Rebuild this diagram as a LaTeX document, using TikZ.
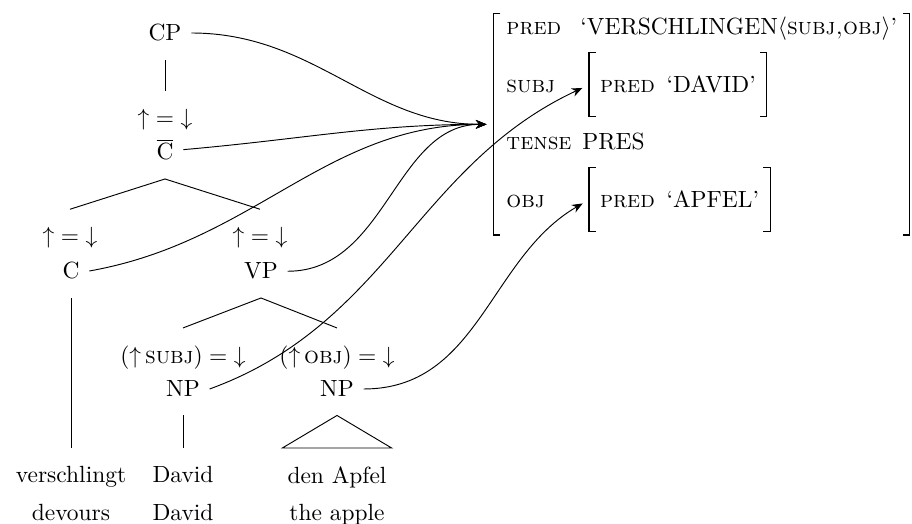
\documentclass[tikz,border=0pt]{standalone}
\usepackage{amsmath}
\usetikzlibrary{arrows.meta, fit}

% square brackets round an f-structure node
\newcommand{\fbrackets}[1]{%
  \draw[line width=0.5pt] ([xshift=1mm]#1.north west) -- (#1.north west) -- (#1.south west) -- ([xshift=1mm]#1.south west);
  \draw[line width=0.5pt] ([xshift=-1mm]#1.north east) -- (#1.north east) -- (#1.south east) -- ([xshift=-1mm]#1.south east);}

\begin{document}
\begin{tikzpicture}[
    x=0.015cm, y=0.015cm,
    cat/.style={anchor=base, inner xsep=4pt, inner ysep=0.27cm},
    word/.style={anchor=north, align=center, inner xsep=2pt, inner ysep=0.27cm},
    branch/.style={draw, line width=0.4pt},
    fattr/.style={anchor=base west, inner sep=0pt},
    fsub/.style={anchor=base west, inner xsep=4.5pt, inner ysep=0pt, minimum height=0.945cm},
    fmap/.style={-{Stealth[length=1.6mm, width=1.3mm]}, shorten >=1.1mm}
]
    \useasboundingbox (0,0) rectangle (912,-524);

    % c-structure
    \node[cat] (cp) at (165,-41) {CP};
    \node[cat] (cbarann) at (165,-126) {${\uparrow} = {\downarrow}$};
    \node[cat] (cbar) at (165,-160) {$\overline{\mbox{C}}$};
    \node[cat] (cann) at (70,-244) {${\uparrow} = {\downarrow}$};
    \node[cat] (c) at (71,-279) {C};
    \node[cat] (vpann) at (260,-244) {${\uparrow} = {\downarrow}$};
    \node[cat] (vp) at (261,-279) {VP};
    \node[cat] (subjann) at (183,-364) {$({\uparrow}\,\textsc{subj}) = {\downarrow}$};
    \node[cat] (npsubj) at (183,-397) {NP};
    \node[cat] (objann) at (337,-364) {$({\uparrow}\,\textsc{obj}) = {\downarrow}$};
    \node[cat] (npobj) at (337,-397) {NP};

    % words and glosses
    \node[word] (verb) at (71,-448) {verschlingt\\[4pt]devours};
    \node[word] (david) at (183,-448) {David\\[4pt]David};
    \node[word] (apfel) at (337,-448) {den Apfel\\[4pt]the apple};

    % tree edges
    \draw[branch] (cp.south) -- (cbarann.north);
    \draw[branch] (cann.north) -- (cbar.south) -- (vpann.north);
    \draw[branch] (subjann.north) -- (vp.south) -- (objann.north);
    \draw[branch] (c.south) -- (verb.north);
    \draw[branch] (npsubj.south) -- (david.north);
    \draw[branch] (npobj.south) -- (apfel.north west) -- (apfel.north east) -- cycle;

    % f-structure
    \node[fattr] (predattr) at (506,-35) {\textsc{pred}};
    \node[fattr] (predval) at (580,-35) {`VERSCHLINGEN$\langle$\textsc{subj,obj}$\rangle$'};
    \node[fattr] (subjattr) at (506,-93) {\textsc{subj}};
    \node[fsub] (fsubj) at (589,-93) {\textsc{pred}\enspace`DAVID'};
    \node[fattr] (tenseattr) at (506,-150) {\textsc{tense}};
    \node[fattr] (tenseval) at (582,-150) {PRES};
    \node[fattr] (objattr) at (506,-208) {\textsc{obj}};
    \node[fsub] (fobj) at (589,-208) {\textsc{pred}\enspace`APFEL'};
    \node[fit=(predattr)(predval)(subjattr)(fsubj)(tenseattr)(tenseval)(objattr)(fobj), inner xsep=5pt, inner ysep=1.2pt] (fstr) {};
    \fbrackets{fsubj}
    \fbrackets{fobj}
    \fbrackets{fstr}

    % phi mapping
    \draw[fmap] (cp.east) to[out=0, in=180] (fstr.west);
    \draw[fmap] (cbar.east) to[out=5, in=180] (fstr.west);
    \draw[fmap] (c.east) to[out=10, in=180] (fstr.west);
    \draw[fmap] (vp.east) to[out=0, in=180] (fstr.west);
    \draw[fmap] (npsubj.east) to[out=20, in=205] (fsubj.west);
    \draw[fmap] (npobj.east) to[out=0, in=210] (fobj.west);
\end{tikzpicture}
\end{document}
